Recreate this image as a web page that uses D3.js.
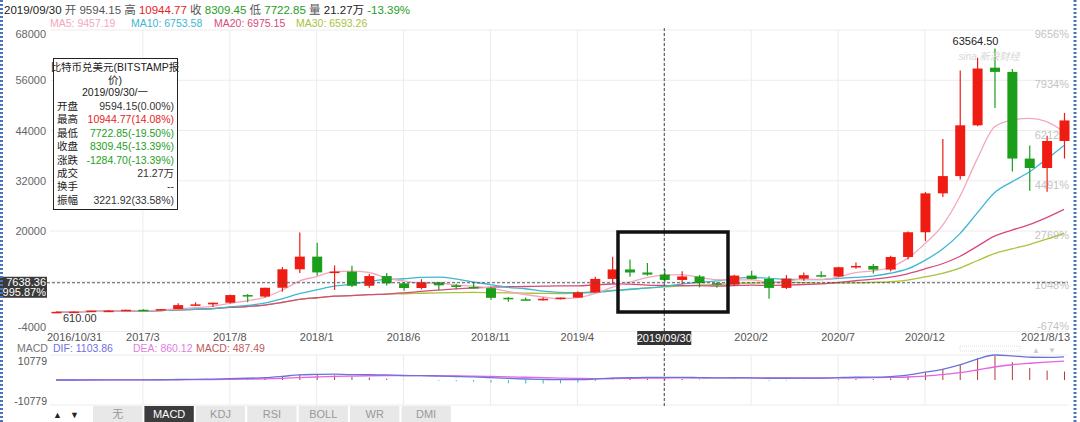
<!DOCTYPE html>
<html><head><meta charset="utf-8">
<script src="https://cdn.jsdelivr.net/npm/d3@7"></script>
<style>
body{margin:0;background:#fff}
svg{display:block}
text{font-family:"Liberation Sans","Noto Sans CJK SC",sans-serif;white-space:pre}
</style>
</head><body><svg id="c" width="1080" height="422"></svg>
<script>
// ---------------- data ----------------
const months = ["2016/10","2016/11","2016/12","2017/1","2017/2","2017/3","2017/4","2017/5","2017/6","2017/7","2017/8","2017/9","2017/10","2017/11","2017/12",
"2018/1","2018/2","2018/3","2018/4","2018/5","2018/6","2018/7","2018/8","2018/9","2018/10","2018/11","2018/12",
"2019/1","2019/2","2019/3","2019/4","2019/5","2019/6","2019/7","2019/8","2019/9","2019/10","2019/11","2019/12",
"2020/1","2020/2","2020/3","2020/4","2020/5","2020/6","2020/7","2020/8","2020/9","2020/10","2020/11","2020/12",
"2021/1","2021/2","2021/3","2021/4","2021/5","2021/6","2021/7","2021/8"];
const open  = [612,697,745,963,970,1190,1080,1348,2300,2480,2875,4700,4340,6450,10860,
13880,10110,10300,6920,9240,7500,6390,7730,7030,6630,6350,4040,
3700,3440,3820,4100,5330,8560,10820,10090,9594.15,8309.45,9150,7540,
7190,9350,8540,6410,8620,9450,9140,11350,11650,10780,13800,19700,
28990,33110,45240,59000,58000,37300,35040,41500];
const high  = [742,755,975,1150,1210,1290,1350,2760,2980,2920,4750,4980,6470,11400,19666,
17180,11780,11700,9750,10000,7770,8490,7760,7410,7700,6620,4250,
4100,4200,4110,5640,9100,13880,13200,12330,10944.77,10370,9510,7750,
9580,10500,9180,9470,10070,10380,11450,12470,12090,14100,19860,29300,
41950,58330,61400,63564.50,58700,40400,42750,48200];
const low   = [610.00,683,742,752,920,890,1070,1345,2120,1830,2710,2970,4110,5500,10000,
9400,5920,6600,6430,7000,5750,6070,5880,6100,6200,3560,3120,
3340,3380,3680,4080,5320,7480,9090,9330,7722.85,7300,6530,6430,
6870,8450,3850,6150,8100,8900,8980,10990,9880,10400,13200,17600,
28130,32300,45000,49400,34200,29600,29400,37300];
const close = [697.01,745,963,970,1190,1080,1348,2300,2480,2875,4700,4340,6450,10860,13880,
10110,10300,6920,9240,7500,6390,7730,7030,6630,6350,4040,3700,
3440,3820,4100,5330,8560,10820,10090,9594.15,8309.45,9150,7540,7190,
9350,8540,6410,8620,9450,9140,11350,11650,10780,13800,19700,28990,
33110,45240,58800,58000,37300,35040,41500,46400];

const xTickMonths = ["2017/3","2017/8","2018/1","2018/6","2018/11","2019/4","2020/2","2020/7","2020/12"];
const gridMonths  = ["2017/3","2017/8","2018/1","2018/6","2018/11","2019/4","2019/9","2020/2","2020/7","2020/12"];
const firstLabel = "2016/10/31", cursorLabel = "2019/09/30", lastLabel = "2021/8/13";
const cursorMonth = "2019/9";
const yTicks = [68000,56000,44000,32000,20000,8000,-4000];
const yTickLabels = ["68000","56000","44000","32000","20000","8000","-4000"];
const pctLabels = ["9656%","7934%","6212%","4491%","2769%","1048%","-674%"];
const macdTickLabels = ["10779","-10779"];
const macdMax = 10779;
const cursorPrice = 7638.36, cursorPriceLabel = "7638.36", cursorPctLabel = "995.87%";
const highLabel = "63564.50", highMonth = "2021/4", highValue = 63564.50;
const lowLabel = "610.00", lowMonth = "2016/10", lowValue = 610.00;
const maPeriods = [5,10,20,30];
const maNames = ["MA5: 9457.19","MA10: 6753.58","MA20: 6975.15","MA30: 6593.26"];
const headerParts = [["2019/09/30 ","#222"],["开 ","#555"],["9594.15 ","#555"],["高 ","#555"],["10944.77 ","#e8231b"],
  ["收 ","#555"],["8309.45 ","#1f9e1f"],["低 ","#555"],["7722.85 ","#1f9e1f"],["量 ","#555"],["21.27万 ","#222"],["-13.39%","#1f9e1f"]];
const infoTitle = ["比特币兑美元(BITSTAMP报","价)","2019/09/30/一"];
const infoRows = [["开盘","9594.15(0.00%)","#333"],["最高","10944.77(14.08%)","#e8231b"],["最低","7722.85(-19.50%)","#1f9e1f"],
  ["收盘","8309.45(-13.39%)","#1f9e1f"],["涨跌","-1284.70(-13.39%)","#1f9e1f"],["成交","21.27万","#333"],["换手","--","#333"],["振幅","3221.92(33.58%)","#333"]];
const macdHeader = [["MACD","#777"],["DIF: 1103.86","#6f6fe0"],["DEA: 860.12","#e07ee0"],["MACD: 487.49","#c05a5a"]];
const tabs = ["无","MACD","KDJ","RSI","BOLL","WR","DMI"];
const activeTab = "MACD";

// ---------------- styles ----------------
const RED="#ee1c12", GREEN="#1b9f1b";
const maColors = ["#f4a6bb","#3db7d2","#d9497c","#a9c23c"];
const GRID="#ececec";

const svg = d3.select("#c");
const L=50, R=1068, T=30, B=331.5;
const x = d3.scalePoint().domain(months).range([56,1064]);
const y = d3.scaleLinear().domain([-4000,68000]).range([B,T]);
const ym = d3.scaleLinear().domain([-macdMax,macdMax]).range([405,355]);
const cy = y(cursorPrice);

// gridlines
const g = svg.append("g");
g.selectAll(".hg").data(yTicks).join("line").attr("x1",L).attr("x2",R)
  .attr("y1",d=>y(d)).attr("y2",d=>y(d)).attr("stroke",GRID);
g.selectAll(".vg").data(gridMonths).join("line").attr("x1",d=>x(d)).attr("x2",d=>x(d))
  .attr("y1",T).attr("y2",B).attr("stroke",GRID);
g.selectAll(".vg2").data(gridMonths).join("line").attr("x1",d=>x(d)).attr("x2",d=>x(d))
  .attr("y1",355).attr("y2",405).attr("stroke",GRID);
[355,405].forEach(v=>g.append("line").attr("x1",L).attr("x2",R).attr("y1",v).attr("y2",v).attr("stroke",GRID));

// right percent labels (drawn under candles)
svg.append("g").selectAll("text").data(yTicks).join("text")
  .attr("x",1069).attr("y",d=>Math.min(y(d)+8,330)).attr("text-anchor","end")
  .attr("font-size",11).attr("fill","#c4c4c4").text((d,i)=>pctLabels[i]);

// left labels (the one under the cursor price box is hidden by it)
svg.append("g").selectAll("text").data(yTicks.filter(d=>Math.abs(y(d)-cy)>12)).join("text")
  .attr("x",46).attr("y",d=>Math.min(Math.max(y(d),34),327)+4).attr("text-anchor","end")
  .attr("font-size",11).attr("fill","#666").text(d=>yTickLabels[yTicks.indexOf(d)]);

// moving averages
function ma(n){ return close.map((c,i)=>d3.mean(close.slice(Math.max(0,i-n+1),i+1))); }
const line = d3.line().x((d,i)=>x(months[i])).y(d=>y(d)).curve(d3.curveMonotoneX);
maPeriods.slice().reverse().forEach((n,k)=>{
  const idx = maPeriods.length-1-k;
  svg.append("path").attr("d",line(ma(n))).attr("fill","none").attr("stroke",maColors[idx]).attr("stroke-width",1.3);
});

// candles
const cw=10;
const cg = svg.append("g");
months.forEach((m,i)=>{
  const up = close[i]>=open[i];
  const col = up?RED:GREEN;
  cg.append("line").attr("x1",x(m)+0.5).attr("x2",x(m)+0.5).attr("y1",y(high[i])).attr("y2",y(low[i])).attr("stroke",col).attr("stroke-width",1.2);
  const y0=y(Math.max(open[i],close[i])), y1=y(Math.min(open[i],close[i]));
  cg.append("rect").attr("x",x(m)-cw/2+0.5).attr("y",y0).attr("width",cw).attr("height",Math.max(1.5,y1-y0)).attr("fill",col);
});

// high / low markers
svg.append("text").attr("x",x(highMonth)+4).attr("y",y(highValue)-4).attr("text-anchor","end").attr("font-size",11).attr("fill","#222").text(highLabel);
svg.append("text").attr("x",x(highMonth)-36).attr("y",y(highValue)+11).attr("font-size",10).attr("font-style","italic").attr("fill","#d6d6d6").text("sina 新浪财经");
svg.append("text").attr("x",x(lowMonth)+7).attr("y",y(lowValue)+10).attr("font-size",11).attr("fill","#333").text(lowLabel);

// cursor lines
svg.append("line").attr("x1",47).attr("x2",R).attr("y1",cy).attr("y2",cy).attr("stroke","#555").attr("stroke-dasharray","3,2");
svg.append("line").attr("x1",x(cursorMonth)).attr("x2",x(cursorMonth)).attr("y1",T-2).attr("y2",407).attr("stroke","#444").attr("stroke-dasharray","3,2");

// cursor price box
svg.append("rect").attr("x",0).attr("y",cy-6).attr("width",47).attr("height",21).attr("fill","#3a3a3a");
svg.append("text").attr("x",46).attr("y",cy+3).attr("text-anchor","end").attr("font-size",11).attr("fill","#fff").text(cursorPriceLabel);
svg.append("text").attr("x",46).attr("y",cy+13.5).attr("text-anchor","end").attr("font-size",11).attr("fill","#fff").text(cursorPctLabel);

// x axis labels
svg.append("g").selectAll("text").data(xTickMonths).join("text").attr("x",d=>x(d)).attr("y",341).attr("text-anchor","middle").attr("fill","#555").attr("font-size",11).text(d=>d);
svg.append("text").attr("x",47).attr("y",341).attr("font-size",11).attr("fill","#555").text(firstLabel);
svg.append("text").attr("x",1070).attr("y",341).attr("text-anchor","end").attr("font-size",11).attr("fill","#555").text(lastLabel);
svg.append("rect").attr("x",x(cursorMonth)-27).attr("y",331).attr("width",54).attr("height",14).attr("fill","#333");
svg.append("text").attr("x",x(cursorMonth)).attr("y",342).attr("text-anchor","middle").attr("font-size",11).attr("fill","#fff").text(cursorLabel);

// MACD (computed from the close series)
const a12=2/13, a26=2/27, a9=0.2;
let e12=close[0], e26=close[0], dea=0;
const dif=[], deaA=[], hist=[];
close.forEach((c,i)=>{
  if(i>0){ e12=e12+a12*(c-e12); e26=e26+a26*(c-e26); }
  const d=e12-e26; dea = i===0? d : dea+a9*(d-dea);
  dif.push(d); deaA.push(dea); hist.push(2*(d-dea));
});
svg.append("g").selectAll("line").data(hist).join("line")
  .attr("x1",(d,i)=>x(months[i])+0.5).attr("x2",(d,i)=>x(months[i])+0.5)
  .attr("y1",ym(0)).attr("y2",d=>ym(d)).attr("stroke",d=>d>=0?"#b23a3a":"#35b4c4").attr("stroke-width",1);
const ml = d3.line().x((d,i)=>x(months[i])).y(d=>ym(d)).curve(d3.curveMonotoneX);
svg.append("path").attr("d",ml(deaA)).attr("fill","none").attr("stroke","#e463e4").attr("stroke-width",1.3);
svg.append("path").attr("d",ml(dif)).attr("fill","none").attr("stroke","#6b73d8").attr("stroke-width",1.3);

const mhX=[17,53,133,196];
macdHeader.forEach((p,i)=>svg.append("text").attr("x",mhX[i]).attr("y",352).attr("font-size",10.5).attr("fill",p[1]).text(p[0]));
svg.append("text").attr("x",47).attr("y",365).attr("text-anchor","end").attr("font-size",10.5).attr("fill","#555").text(macdTickLabels[0]);
svg.append("text").attr("x",47).attr("y",405).attr("text-anchor","end").attr("font-size",10.5).attr("fill","#555").text(macdTickLabels[1]);
// faint scroll widgets
svg.append("rect").attr("x",960).attr("y",346).attr("width",60).attr("height",5).attr("fill","none").attr("stroke","#ddd").attr("stroke-dasharray","1,1");
svg.append("text").attr("x",1032).attr("y",353).attr("font-size",8).attr("fill","#ccc").text("▲");
svg.append("text").attr("x",1048).attr("y",353).attr("font-size",8).attr("fill","#ccc").text("▼");

// tabs
svg.append("text").attr("x",53).attr("y",418).attr("font-size",9).attr("fill","#222").text("▲");
svg.append("text").attr("x",70).attr("y",418).attr("font-size",9).attr("fill","#222").text("▼");
const tw=51.4, tx0=92;
tabs.forEach((t,i)=>{
  const act=t===activeTab;
  svg.append("rect").attr("x",tx0+i*tw+1).attr("y",406).attr("width",tw-2).attr("height",16).attr("fill",act?"#3c3c3c":"#e8e8e8");
  svg.append("text").attr("x",tx0+i*tw+tw/2).attr("y",418).attr("text-anchor","middle").attr("font-size",11).attr("fill",act?"#fff":"#999").text(t);
});

// header
const h1 = svg.append("text").attr("x",4).attr("y",14).attr("font-size",11.5);
headerParts.forEach(p=>h1.append("tspan").attr("fill",p[1]).text(p[0]));
const maX=[50,131,214,296];
maNames.forEach((t,i)=>svg.append("text").attr("x",maX[i]).attr("y",27).attr("font-size",10.5).attr("fill",maColors[i]).text(t));

// info box
const bx=53, by=58, bw=124, bh=151;
svg.append("rect").attr("x",bx+0.5).attr("y",by+0.5).attr("width",bw).attr("height",bh).attr("fill","#fff").attr("stroke","#222");
infoTitle.forEach((t,i)=>svg.append("text").attr("x",bx+bw/2).attr("y",by+13+i*12.5).attr("text-anchor","middle").attr("font-size",10.5).attr("fill","#222").text(t));
infoRows.forEach((r,i)=>{
  const yy=by+52+i*13.4;
  svg.append("text").attr("x",bx+4).attr("y",yy).attr("font-size",10.5).attr("fill","#222").text(r[0]);
  svg.append("text").attr("x",bx+bw-3).attr("y",yy).attr("text-anchor","end").attr("font-size",10.5).attr("fill",r[2]).text(r[1]);
});

// highlight rectangle
svg.append("rect").attr("x",618).attr("y",232).attr("width",110).attr("height",80).attr("fill","none").attr("stroke","#111").attr("stroke-width",3.5);

// dotted side borders
[1.5,1075].forEach(v=>svg.append("line").attr("x1",v).attr("x2",v).attr("y1",0).attr("y2",422).attr("stroke","#4a74b8").attr("stroke-width",3).attr("stroke-dasharray","2,2"));
</script></body></html>
